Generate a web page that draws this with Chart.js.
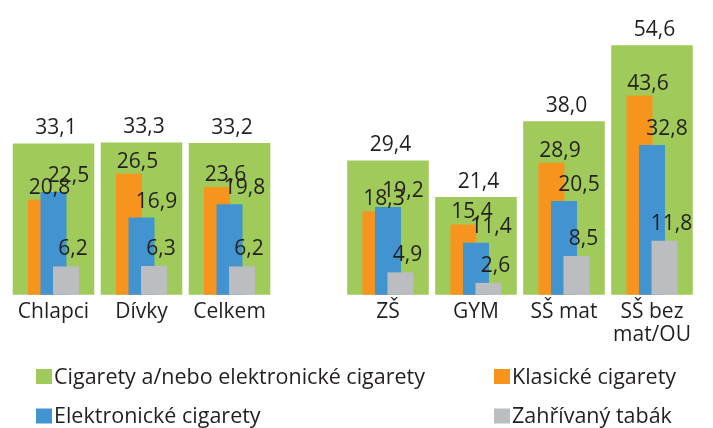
<!DOCTYPE html>
<html>
<head>
<meta charset="utf-8">
<script src="https://cdn.jsdelivr.net/npm/chart.js@4/dist/chart.umd.min.js"></script>
<style>
  html, body { margin: 0; padding: 0; background: #fff; }
</style>
</head>
<body>
<canvas id="chart" width="713" height="428"></canvas>
<script>
// data
const categories = ['Chlapci', 'Dívky', 'Celkem', 'ZŠ', 'GYM', 'SŠ mat', ['SŠ bez', 'mat/OU']];
const groupPos = [0, 1, 2, 3.8, 4.8, 5.8, 6.8]; // x positions, leaves a gap between the two groups
const anyCig = [33.1, 33.3, 33.2, 29.4, 21.4, 38.0, 54.6];
const classicCig = [20.8, 26.5, 23.6, 18.3, 15.4, 28.9, 43.6];
const eCig = [22.5, 16.9, 19.8, 19.2, 11.4, 20.5, 32.8];
const heatedTob = [6.2, 6.3, 6.2, 4.9, 2.6, 8.5, 11.8];
const seriesNames = ['Cigarety a/nebo elektronické cigarety', 'Klasické cigarety', 'Elektronické cigarety', 'Zahřívaný tabák'];
const seriesColors = ['#a0cb5a', '#f7941e', '#4294d0', '#bcbdc0'];

const FONT = "'Open Sans', 'Noto Sans', sans-serif";
const TEXT = '#231f20';

function points(values) {
  return values.map((v, i) => ({ x: groupPos[i], y: v }));
}
function fmt(v) {
  return v.toFixed(1).replace('.', ',');
}

// label offsets per series (dx to the right, gap above the bar top)
const labelOffset = [
  { dx: 2.5, gap: 9.5 },
  { dx: 8.5, gap: 6 },
  { dx: 15, gap: 10 },
  { dx: 7, gap: 11 }
];

// draw green first, then orange, blue, gray on top
const drawInOrder = {
  id: 'drawInOrder',
  beforeDatasetsDraw(chart) {
    chart.data.datasets.forEach((ds, i) => {
      const meta = chart.getDatasetMeta(i);
      if (chart.isDatasetVisible(i)) meta.controller.draw();
    });
    return false;
  }
};

const valueLabels = {
  id: 'valueLabels',
  afterDraw(chart) {
    const ctx = chart.ctx;
    ctx.save();
    ctx.font = '21px ' + FONT;
    ctx.fillStyle = TEXT;
    ctx.textAlign = 'center';
    ctx.textBaseline = 'alphabetic';
    chart.data.datasets.forEach((ds, i) => {
      const meta = chart.getDatasetMeta(i);
      const off = labelOffset[i];
      meta.data.forEach((bar, j) => {
        ctx.fillText(fmt(ds.data[j].y), bar.x + off.dx, bar.y - off.gap);
      });
    });
    ctx.restore();
  }
};

// two-column legend under the chart
const gridLegend = {
  id: 'gridLegend',
  afterDraw(chart) {
    const ctx = chart.ctx;
    const colX = [36, 494];
    const rowY = [376.5, 416];
    ctx.save();
    ctx.font = '21.5px ' + FONT;
    ctx.textAlign = 'left';
    ctx.textBaseline = 'middle';
    chart.data.datasets.forEach((ds, i) => {
      const x = colX[i % 2];
      const y = rowY[Math.floor(i / 2)];
      ctx.fillStyle = ds.backgroundColor;
      ctx.fillRect(x, y - 7.5, 16, 15);
      ctx.fillStyle = TEXT;
      ctx.fillText(ds.label, x + 18, y + 1);
    });
    ctx.restore();
  }
};

const ctx = document.getElementById('chart').getContext('2d');
new Chart(ctx, {
  type: 'bar',
  data: {
    datasets: [
      { label: seriesNames[0], data: points(anyCig), backgroundColor: seriesColors[0],
        grouped: false, barPercentage: 1, categoryPercentage: 0.927 },
      { label: seriesNames[1], data: points(classicCig), backgroundColor: seriesColors[1], stack: 'a' },
      { label: seriesNames[2], data: points(eCig), backgroundColor: seriesColors[2], stack: 'b' },
      { label: seriesNames[3], data: points(heatedTob), backgroundColor: seriesColors[3], stack: 'c' }
    ]
  },
  options: {
    responsive: false,
    animation: false,
    categoryPercentage: 0.426,
    barPercentage: 2.08,
    layout: { padding: { left: 9.5, right: 17, top: 20.6, bottom: 75 } },
    plugins: {
      legend: { display: false },
      tooltip: { enabled: false }
    },
    scales: {
      x: {
        type: 'linear',
        offset: false,
        min: -0.5,
        max: 7.3,
        grid: { display: false, drawTicks: false, offset: false },
        border: { display: false },
        afterBuildTicks: (axis) => {
          axis.ticks = groupPos.map(v => ({ value: v }));
        },
        ticks: {
          autoSkip: false,
          maxRotation: 0,
          padding: 6,
          color: TEXT,
          font: { family: FONT, size: 21, lineHeight: 1.1 },
          callback: (value, index) => categories[index]
        }
      },
      y: {
        display: false,
        min: 0,
        max: 60
      }
    }
  },
  plugins: [drawInOrder, valueLabels, gridLegend]
});
</script>
</body>
</html>
